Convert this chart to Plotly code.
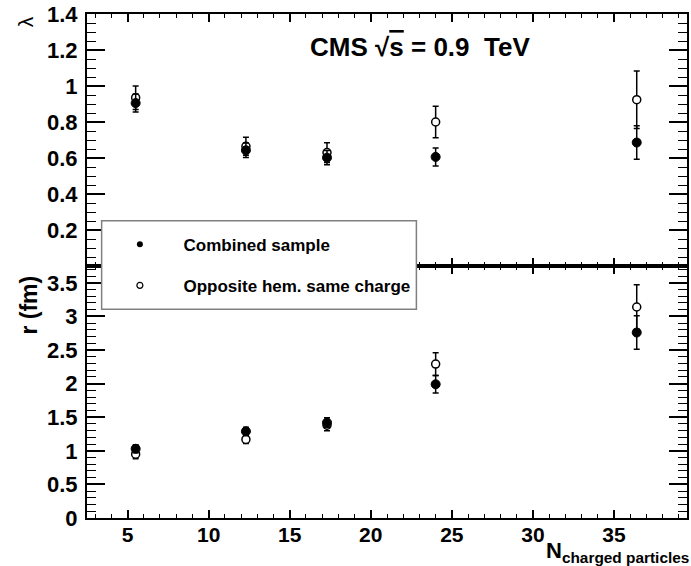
import plotly.graph_objects as go

# ---- data ----
n_charged = [5.5, 12.3, 17.3, 24.0, 36.4]
lam_comb = [0.905, 0.643, 0.602, 0.606, 0.686]
lam_comb_err = [0.05, 0.04, 0.04, 0.05, 0.093]
lam_opp = [0.935, 0.665, 0.63, 0.80, 0.924]
lam_opp_err = [0.065, 0.05, 0.055, 0.088, 0.16]
r_comb = [1.03, 1.29, 1.42, 1.99, 2.76]
r_comb_err = [0.06, 0.06, 0.07, 0.13, 0.25]
r_opp = [0.95, 1.17, 1.38, 2.29, 3.14]
r_opp_err = [0.07, 0.06, 0.08, 0.17, 0.33]

series_names = ["Combined sample", "Opposite hem. same charge"]
lam_ticks = [0.2, 0.4, 0.6, 0.8, 1.0, 1.2, 1.4]
lam_ticktext = ["0.2", "0.4", "0.6", "0.8", "1", "1.2", "1.4"]
r_ticks = [0, 0.5, 1, 1.5, 2, 2.5, 3, 3.5]
r_ticktext = ["0", "0.5", "1", "1.5", "2", "2.5", "3", "3.5"]
x_ticks = [5, 10, 15, 20, 25, 30, 35]
x_ticktext = ["5", "10", "15", "20", "25", "30", "35"]

FONT = "Liberation Sans, Arial, sans-serif"
NB = "\u00a0"

fig = go.Figure()

def err(arr):
    return dict(type="data", array=arr, visible=True, color="black",
                thickness=1.5, width=3)

filled = dict(symbol="circle", size=9, color="black",
              line=dict(color="black", width=1))
opened = dict(symbol="circle", size=8, color="white",
              line=dict(color="black", width=1.5))

# top panel (lambda)
fig.add_trace(go.Scatter(x=n_charged, y=lam_opp, mode="markers", marker=opened,
                         error_y=err(lam_opp_err), showlegend=False,
                         xaxis="x", yaxis="y"))
fig.add_trace(go.Scatter(x=n_charged, y=lam_comb, mode="markers", marker=filled,
                         error_y=err(lam_comb_err), showlegend=False,
                         xaxis="x", yaxis="y"))
# bottom panel (r)
fig.add_trace(go.Scatter(x=n_charged, y=r_opp, mode="markers", marker=opened,
                         error_y=err(r_opp_err), showlegend=False,
                         xaxis="x2", yaxis="y2"))
fig.add_trace(go.Scatter(x=n_charged, y=r_comb, mode="markers", marker=filled,
                         error_y=err(r_comb_err), showlegend=False,
                         xaxis="x2", yaxis="y2"))
# legend entries (smaller legend symbols, as in the reference)
fig.add_trace(go.Scatter(x=[None], y=[None], mode="markers",
                         marker=dict(symbol="circle", size=6, color="black"),
                         name=NB * 5 + series_names[0], legendgroup="comb",
                         legendrank=1, xaxis="x", yaxis="y"))
fig.add_trace(go.Scatter(x=[None], y=[None], mode="markers",
                         marker=dict(symbol="circle", size=6, color="white",
                                     line=dict(color="black", width=1.2)),
                         name=NB * 5 + series_names[1], legendgroup="opp",
                         legendrank=2, xaxis="x", yaxis="y"))

ytickfont = dict(family=FONT, size=22, color="black", weight="bold")
xtickfont = dict(family=FONT, size=21, color="black", weight="bold")

xcommon = dict(range=[2.5, 39.5], showline=True, linecolor="black", linewidth=2,
               ticks="inside", ticklen=8, tickwidth=1.5, tickcolor="black",
               tickvals=x_ticks, ticktext=x_ticktext, mirror="ticks",
               showgrid=False, zeroline=False, tickfont=xtickfont,
               ticklabelstandoff=-3,
               minor=dict(ticks="inside", ticklen=4, tickwidth=1.2,
                          tickcolor="black", dtick=1, tick0=0, showgrid=False))

ycommon = dict(showline=True, linecolor="black", linewidth=2, ticks="inside",
               ticklen=18, tickwidth=1.5, tickcolor="black", mirror="ticks",
               showgrid=False, zeroline=False, tickfont=ytickfont,
               ticklabelstandoff=3)

fig.update_layout(
    width=691, height=566,
    margin=dict(l=87, r=2, t=13, b=48),
    paper_bgcolor="white", plot_bgcolor="white",
    xaxis=dict(**xcommon, anchor="y", domain=[0, 1], showticklabels=False,
               matches="x2"),
    xaxis2=dict(**xcommon, anchor="y2", domain=[0, 1]),
    yaxis=dict(**ycommon, domain=[0.5, 1], anchor="x", range=[0, 1.4],
               tickvals=lam_ticks, ticktext=lam_ticktext,
               minor=dict(ticks="inside", ticklen=9, tickwidth=1.2,
                          tickcolor="black", dtick=0.05, tick0=0, showgrid=False)),
    yaxis2=dict(**ycommon, domain=[0, 0.5], anchor="x2", range=[0, 3.75],
                tickvals=r_ticks, ticktext=r_ticktext,
                minor=dict(ticks="inside", ticklen=9, tickwidth=1.2,
                           tickcolor="black", dtick=0.1, tick0=0, showgrid=False)),
    showlegend=True,
    legend=dict(x=0.0548, y=0.578, xanchor="left", yanchor="top",
                bgcolor="rgba(0,0,0,0)", borderwidth=0,
                traceorder="grouped", tracegroupgap=16,
                font=dict(family=FONT, size=17, color="black", weight="bold")),
    shapes=[dict(type="rect", xref="paper", yref="paper",
                 x0=0.0244, x1=0.549, y0=0.414, y1=0.590,
                 fillcolor="white", line=dict(color="#808080", width=1.5),
                 layer="above")],
    annotations=[
        dict(text="<b>CMS √<span style='text-decoration:overline'>s</span> = 0.9" + NB + NB + "TeV</b>",
             xref="paper", yref="paper", x=(309 - 87) / 602, y=(518 - 46) / 505,
             xanchor="left", yanchor="middle", showarrow=False,
             font=dict(family=FONT, size=26, color="black")),
        dict(text="λ", xref="paper", yref="paper",
             x=(26 - 87) / 602, y=(518 - 21) / 505, textangle=-90,
             xanchor="center", yanchor="middle", showarrow=False,
             font=dict(family=FONT, size=21, color="black")),
        dict(text="<b>r (fm)</b>", xref="paper", yref="paper",
             x=(29 - 87) / 602, y=(518 - 305) / 505, textangle=-90,
             xanchor="center", yanchor="middle", showarrow=False,
             font=dict(family=FONT, size=23, color="black")),
        dict(text="<b>N<sub>charged particles</sub></b>", xref="paper", yref="paper",
             x=(693 - 87) / 602, y=(518 - 536) / 505,
             xanchor="right", yanchor="top", showarrow=False,
             font=dict(family=FONT, size=22, color="black")),
    ],
)

fig.write_html("out.html")
